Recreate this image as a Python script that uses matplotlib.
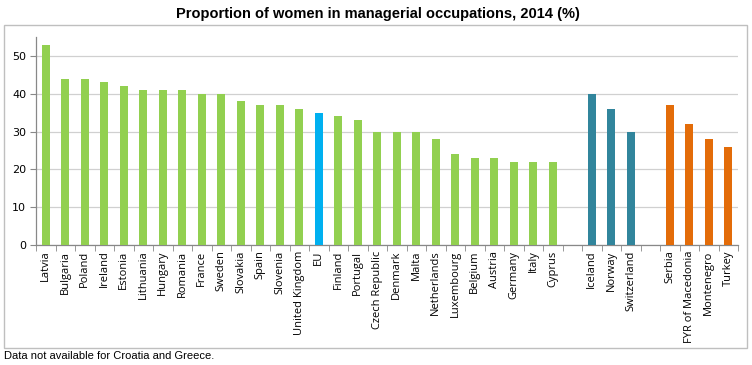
import matplotlib.pyplot as plt
from matplotlib.patches import Rectangle

# ---- data ----
countries = ["Latvia", "Bulgaria", "Poland", "Ireland", "Estonia", "Lithuania",
             "Hungary", "Romania", "France", "Sweden", "Slovakia", "Spain",
             "Slovenia", "United Kingdom", "EU", "Finland", "Portugal",
             "Czech Republic", "Denmark", "Malta", "Netherlands", "Luxembourg",
             "Belgium", "Austria", "Germany", "Italy", "Cyprus"]
values = [53, 44, 44, 43, 42, 41, 41, 41, 40, 40, 38, 37, 37, 36, 35, 34, 33,
          30, 30, 30, 28, 24, 23, 23, 22, 22, 22]
efta = ["Iceland", "Norway", "Switzerland"]
efta_values = [40, 36, 30]
candidates = ["Serbia", "FYR of Macedonia", "Montenegro", "Turkey"]
candidate_values = [37, 32, 28, 26]

GREEN = "#92D050"
BLUE = "#00B0F0"
TEAL = "#31859C"
ORANGE = "#E36C09"

labels = countries + [""] + efta + [""] + candidates
vals = values + [0] + efta_values + [0] + candidate_values
colors = ([BLUE if c == "EU" else GREEN for c in countries] + ["none"]
          + [TEAL] * len(efta) + ["none"] + [ORANGE] * len(candidates))

fig = plt.figure(figsize=(7.52, 3.65), dpi=100)
fig.patches.append(Rectangle((4 / 752, 1 - 348 / 365), 743 / 752, 323 / 365,
                             transform=fig.transFigure, fill=False,
                             edgecolor="#BFBFBF", linewidth=1.0))

ax = fig.add_axes([36 / 752, 1 - 245 / 365, 702 / 752, 208 / 365])
x = list(range(len(labels)))
ax.bar(x, vals, width=0.42, color=colors, zorder=3)

ax.set_xlim(-0.5, len(labels) - 0.5)
ax.set_ylim(0, 55)
ax.set_yticks([0, 10, 20, 30, 40, 50])
ax.yaxis.grid(True, color="#D0D0D0", linewidth=0.9, zorder=0)
ax.set_axisbelow(True)

ax.set_xticks(x)
ax.set_xticklabels(labels, rotation=90, fontsize=8, family="Open Sans")
ax.set_xticks([i - 0.5 for i in range(len(labels) + 1)], minor=True)
ax.tick_params(axis="x", which="major", length=0, pad=4)
ax.tick_params(axis="x", which="minor", length=4, color="#888888")
ax.tick_params(axis="y", length=4, color="#888888", labelsize=8, pad=3)

for s in ["top", "right"]:
    ax.spines[s].set_visible(False)
for s in ["left", "bottom"]:
    ax.spines[s].set_color("#888888")
    ax.spines[s].set_linewidth(0.9)

fig.text(378 / 752, 1 - 14 / 365,
         "Proportion of women in managerial occupations, 2014 (%)",
         ha="center", va="center", fontsize=10.5, fontweight="bold",
         family="Liberation Sans")
fig.text(4 / 752, 1 - 356 / 365, "Data not available for Croatia and Greece.",
         ha="left", va="center", fontsize=8, family="Liberation Sans")

fig.savefig("out.png", dpi=100)
